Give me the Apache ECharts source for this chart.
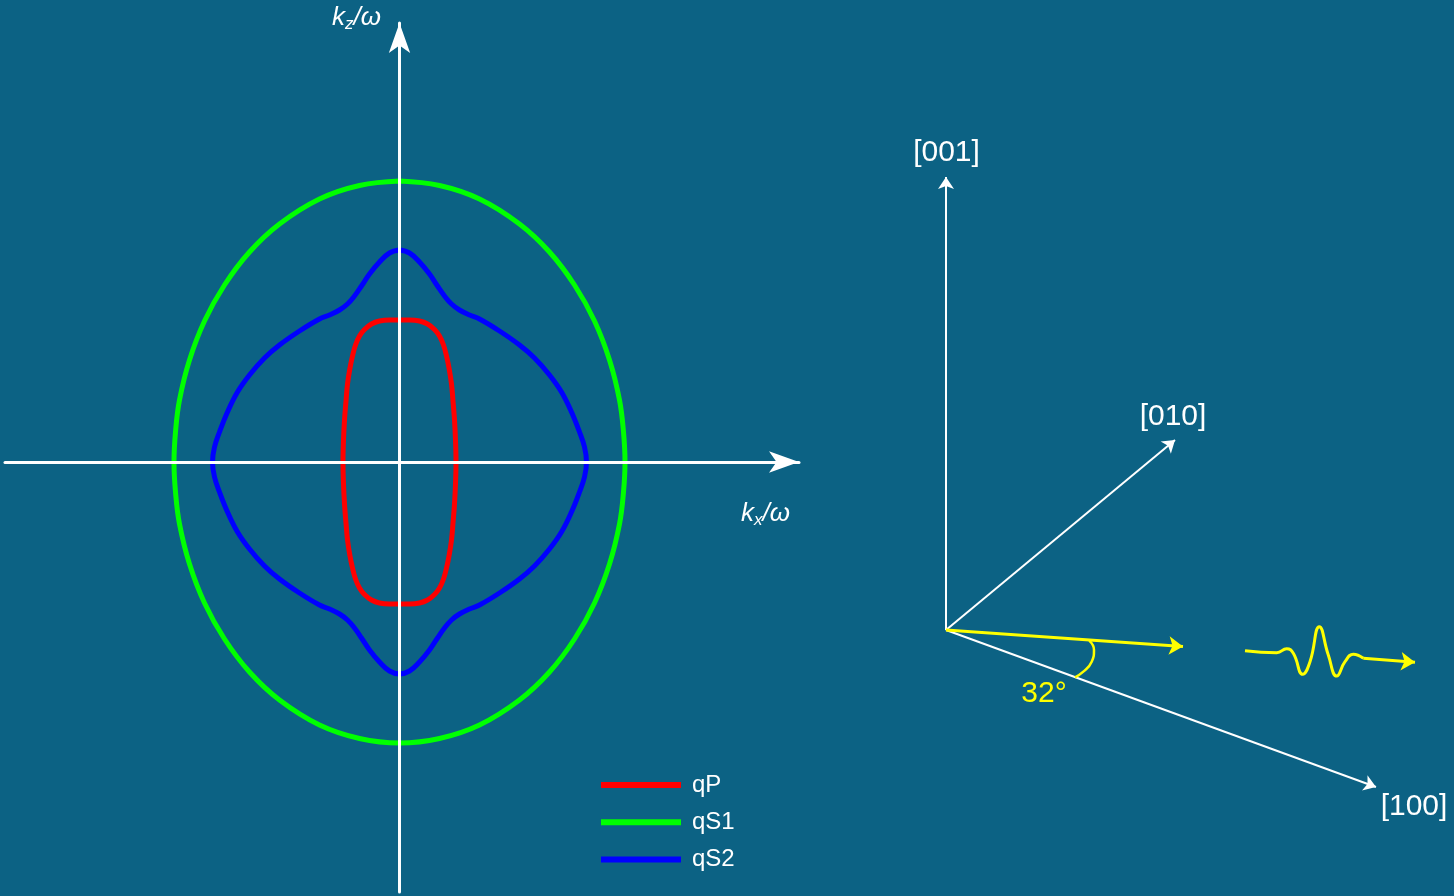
<!DOCTYPE html>
<html>
<head>
<meta charset="utf-8">
<title>Slowness curves</title>
<script src="https://cdn.jsdelivr.net/npm/echarts@6/dist/echarts.min.js"></script>
<style>
  html, body { margin: 0; padding: 0; background: #0c6284; }
  #chart { width: 1454px; height: 896px; }
</style>
</head>
<body>
<div id="chart"></div>
<script>
// slowness curves, one quadrant each as [kx/ω, kz/ω] (top -> right)
const qP = [[0, 1.42], [0.1, 1.42], [0.2, 1.41], [0.28, 1.38], [0.35, 1.325], [0.4, 1.26], [0.44, 1.17],
  [0.47, 1.06], [0.495, 0.94], [0.52, 0.78], [0.535, 0.61], [0.55, 0.42], [0.56, 0.22], [0.565, 0]];
const qS1 = [[0, 2.81], [0.4, 2.765], [0.8, 2.63], [1.2, 2.38], [1.5, 2.10], [1.75, 1.77], [1.95, 1.41],
  [2.1, 1.02], [2.2, 0.62], [2.24, 0.30], [2.255, 0]];
const qS2 = [[0, 2.12], [0.10, 2.09], [0.20, 2.00], [0.30, 1.88], [0.38, 1.76], [0.45, 1.66], [0.52, 1.58],
  [0.60, 1.52], [0.70, 1.47], [0.80, 1.43], [1.00, 1.31], [1.20, 1.17], [1.35, 1.04], [1.50, 0.87],
  [1.62, 0.70], [1.72, 0.50], [1.80, 0.30], [1.85, 0.15], [1.87, 0]];
const curveNames = ['qP', 'qS1', 'qS2'];
const curveColors = ['#ff0000', '#00ff00', '#0000ff'];

// crystal axes sketch (origin at the common start point)
const axisNames = ['[001]', '[010]', '[100]'];
const axisTips = [[0, 453], [229, 190], [430, -157]];
const rayTip = [237, -16.5];
const arcPts = [[143.3, -10.7], [148, -20], [145.7, -31.7], [137.3, -41.7], [129, -47.3]];
const wavePts = [[299, -20.7], [330.7, -22.7], [340.7, -18.7], [347.3, -23.3], [356.7, -44.3], [364, -31.7],
  [373.3, 3.3], [382.3, -25], [390.7, -46], [399, -31.7], [407.3, -24.3], [417.3, -28.3]];
const waveTail = [[417.3, -28.3], [469, -32.3]];
const angleText = '32°';

// mirror one quadrant into a closed loop: top -> right -> bottom -> left -> top
const closeLoop = q => {
  const r = q.slice().reverse();
  return [
    ...q,
    ...r.slice(1).map(p => [p[0], -p[1]]),
    ...q.slice(1).map(p => [-p[0], -p[1]]),
    ...r.slice(1).map(p => [-p[0], p[1]])
  ];
};

const white = '#ffffff';
const yellow = '#ffff00';
const font = '"Liberation Sans", Arial, sans-serif';

const leftAxis = (min, max) => ({
  type: 'value', gridIndex: 0, min: min, max: max, z: 5,
  axisLine: {
    show: true, onZero: true,
    symbol: ['none', 'arrow'], symbolSize: [16, 30],
    lineStyle: { color: white, width: 3 }
  },
  axisTick: { show: false }, axisLabel: { show: false }, splitLine: { show: false }
});
const hiddenAxis = (min, max) => ({ type: 'value', gridIndex: 1, min: min, max: max, show: false });

const kLabel = (x, y, sub) => ({
  type: 'text', x: x, y: y,
  style: {
    text: '{a|k}{s|' + sub + '}{a|/ω}',
    verticalAlign: 'middle',
    rich: {
      a: { fontSize: 26, fontStyle: 'italic', lineHeight: 30, fill: white, fontFamily: font },
      s: { fontSize: 17, fontStyle: 'italic', lineHeight: 19, verticalAlign: 'bottom', fill: white, fontFamily: font }
    }
  }
});
const labelPos = [[946.5, 153], [1173, 417], [1414, 807]];

const option = {
  backgroundColor: '#0c6284',
  animation: false,
  grid: [
    { left: 5, top: 23, width: 794, height: 869, outerBoundsMode: 'none' },
    { left: 900, top: 0, width: 554, height: 896, outerBoundsMode: 'none' }
  ],
  xAxis: [leftAxis(-3.945, 3.995), hiddenAxis(-46, 508)],
  yAxis: [leftAxis(-4.30, 4.39), hiddenAxis(-266, 630)],
  legend: {
    data: curveNames,
    orient: 'vertical', left: 601, top: 772, padding: 0,
    icon: 'rect', itemWidth: 80, itemHeight: 6, itemGap: 11.3,
    textStyle: { color: white, fontSize: 24, lineHeight: 26, fontFamily: font, padding: [0, 0, 0, 6] }
  },
  series: [
    ...[qP, qS1, qS2].map((q, i) => ({
      name: curveNames[i], type: 'line', xAxisIndex: 0, yAxisIndex: 0,
      data: closeLoop(q), smooth: 0.4, showSymbol: false, symbol: 'none',
      lineStyle: { color: curveColors[i], width: 5 }, itemStyle: { color: curveColors[i] }
    })),
    {
      type: 'lines', coordinateSystem: 'cartesian2d', xAxisIndex: 1, yAxisIndex: 1,
      symbol: ['none', 'arrow'], symbolSize: 12,
      lineStyle: { color: white, width: 2, opacity: 1 },
      data: axisTips.map(t => ({ coords: [[0, 0], t] }))
    },
    {
      type: 'lines', coordinateSystem: 'cartesian2d', xAxisIndex: 1, yAxisIndex: 1,
      symbol: ['none', 'arrow'], symbolSize: 14,
      lineStyle: { color: yellow, width: 3, opacity: 1 },
      data: [{ coords: [[0, 0], rayTip] }, { coords: waveTail }]
    },
    {
      type: 'line', xAxisIndex: 1, yAxisIndex: 1, data: wavePts, smooth: 0.5,
      showSymbol: false, symbol: 'none', lineStyle: { color: yellow, width: 3 }
    },
    {
      type: 'line', xAxisIndex: 1, yAxisIndex: 1, data: arcPts, smooth: 0.5,
      showSymbol: false, symbol: 'none', lineStyle: { color: yellow, width: 2.5 }
    }
  ],
  graphic: [
    kLabel(332, 18, 'z'),
    kLabel(741, 514, 'x'),
    ...axisNames.map((n, i) => ({
      type: 'text', x: labelPos[i][0], y: labelPos[i][1],
      style: { text: n, fill: white, fontSize: 30, fontFamily: font, align: 'center', verticalAlign: 'middle' }
    })),
    {
      type: 'text', x: 1044, y: 694,
      style: { text: angleText, fill: yellow, fontSize: 30, fontFamily: font, align: 'center', verticalAlign: 'middle' }
    }
  ]
};

const chart = echarts.init(document.getElementById('chart'));
chart.setOption(option);
</script>
</body>
</html>
